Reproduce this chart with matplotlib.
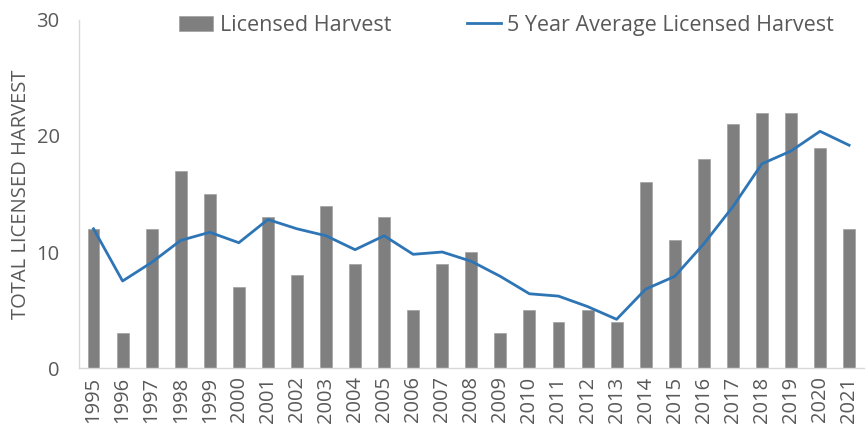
import numpy as np
import matplotlib.pyplot as plt

plt.rcParams['font.family'] = ['Open Sans', 'DejaVu Sans']

years = [str(y) for y in range(1995, 2022)]
harvest = [12, 3, 12, 17, 15, 7, 13, 8, 14, 9, 13, 5, 9, 10, 3, 5, 4, 5, 4,
           16, 11, 18, 21, 22, 22, 19, 12]
avg5 = [12.0, 7.5, 9.1, 11.0, 11.7, 10.8, 12.8, 12.0, 11.4, 10.2, 11.4, 9.8,
        10.0, 9.2, 7.9, 6.4, 6.2, 5.3, 4.2, 6.8, 7.9, 10.7, 13.9, 17.6, 18.7,
        20.4, 19.2]

txt = '#595959'
fig = plt.figure(figsize=(8.67, 4.32), dpi=100)
ax = fig.add_axes([0.0911, 0.148, 0.905, 0.806])

x = np.arange(len(years))
bars = ax.bar(x, harvest, width=0.41, color='#7f7f7f', edgecolor='#a0a0a0',
              linewidth=0.5, label='Licensed Harvest', zorder=2)
line, = ax.plot(x, avg5, color='#2e75b6', linewidth=2,
                label='5 Year Average Licensed Harvest', zorder=3)

ax.set_xlim(-0.5, len(years) - 0.5)
ax.set_ylim(0, 30)
ax.set_yticks([0, 10, 20, 30])
ax.set_xticks(x)
ax.set_xticklabels(years, rotation=90)
ax.tick_params(axis='both', length=0, colors=txt, labelsize=14.5)
ax.tick_params(axis='y', pad=14)
ax.tick_params(axis='x', pad=6)
ax.set_ylabel('TOTAL LICENSED HARVEST', color=txt, fontsize=14.5, labelpad=4)

for s in ['top', 'right']:
    ax.spines[s].set_visible(False)
for s in ['left', 'bottom']:
    ax.spines[s].set_color('#d9d9d9')
    ax.spines[s].set_linewidth(1)

ax.legend([bars, line], ['Licensed Harvest', '5 Year Average Licensed Harvest'],
          loc='upper center', bbox_to_anchor=(0.545, 1.07), ncol=2, frameon=False,
          fontsize=15.5, labelcolor=txt, handlelength=1.6, handletextpad=0.3,
          columnspacing=3.5)

fig.savefig('out.png', dpi=100)
